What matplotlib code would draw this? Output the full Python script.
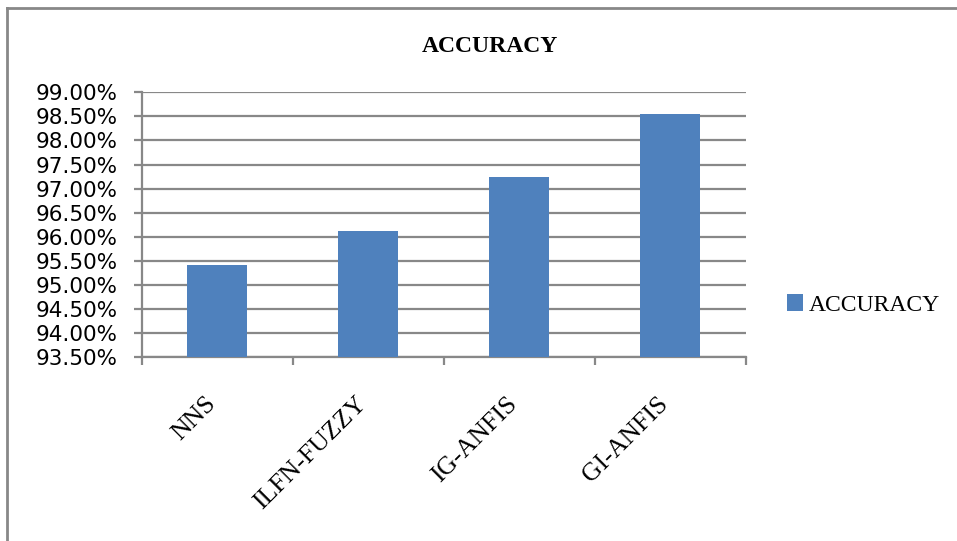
import numpy as np
import matplotlib
matplotlib.use("Agg")
import matplotlib.pyplot as plt
import matplotlib.transforms as mtransforms
from matplotlib.ticker import FuncFormatter, FixedLocator
from matplotlib.lines import Line2D

categories = ["NNS", "ILFN-FUZZY", "IG-ANFIS", "GI-ANFIS"]
accuracy = [95.42, 96.12, 97.24, 98.56]
series_name = "ACCURACY"

W, H = 957, 541
fig = plt.figure(figsize=(W / 100, H / 100), dpi=100)
ax = fig.add_axes([141.7 / W, 1 - 357.3 / H, (745.7 - 141.7) / W, (357.3 - 92.3) / H])

grid_col = "#888888"
x = np.arange(len(categories))
bars = ax.bar(x, accuracy, width=0.4, color="#4F81BD", label=series_name, zorder=3)

ax.set_ylim(93.5, 99.0)
ax.set_xlim(-0.5, len(categories) - 0.5)
ax.set_yticks(np.arange(93.5, 99.01, 0.5))
ax.yaxis.set_major_formatter(FuncFormatter(lambda v, p: f"{v:.2f}%"))
ax.grid(axis="y", color=grid_col, lw=1.6, zorder=0)

for s in ["top", "right"]:
    ax.spines[s].set_visible(False)
for s in ["left", "bottom"]:
    ax.spines[s].set_color(grid_col)
    ax.spines[s].set_linewidth(1.6)

ax.tick_params(axis="y", length=6, width=1.6, color=grid_col, pad=11,
               labelsize=15.5, labelfontfamily="DejaVu Sans")
ax.set_xticks(x)
ax.set_xticklabels(categories, rotation=45, ha="right", va="center",
                   rotation_mode="anchor",
                   fontfamily="Liberation Serif", fontsize=18.5)
ax.tick_params(axis="x", which="major", length=0, pad=31)
# nudge the rotated labels a bit to the left
shift = mtransforms.ScaledTranslation(-0.05, 0, fig.dpi_scale_trans)
for lbl in ax.get_xticklabels():
    lbl.set_transform(lbl.get_transform() + shift)
ax.xaxis.set_minor_locator(FixedLocator(np.arange(-0.5, len(categories), 1.0)))
ax.tick_params(axis="x", which="minor", length=6, width=1.6, color=grid_col)

fig.text(490 / W, 1 - 46 / H, "ACCURACY", ha="center", va="center",
         fontfamily="Liberation Serif", fontweight="bold", fontsize=17)

ax.legend(loc="center left", bbox_to_anchor=(775 / W, 1 - 305 / H),
          bbox_transform=fig.transFigure, frameon=False,
          prop={"family": "Liberation Serif", "size": 17},
          handlelength=0.7, handleheight=0.7, handletextpad=0.25, borderpad=0)

# outer chart frame (clipped at right and bottom)
fig.add_artist(Line2D([7.5 / W, 7.5 / W], [0, 1 - 8 / H], transform=fig.transFigure,
                      color=grid_col, lw=2))
fig.add_artist(Line2D([7.5 / W, 1], [1 - 8 / H, 1 - 8 / H], transform=fig.transFigure,
                      color=grid_col, lw=2))

fig.savefig("out.png", dpi=100)
